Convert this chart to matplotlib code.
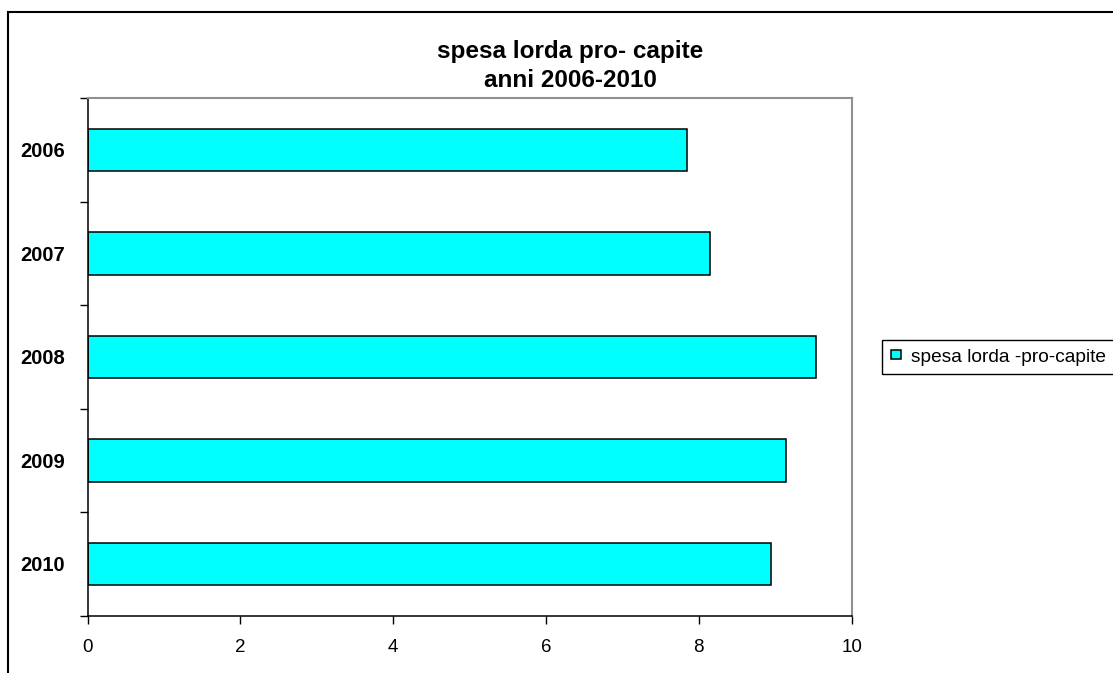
import matplotlib.pyplot as plt
from matplotlib.patches import Rectangle

# spesa lorda pro-capite per anno
anni = ['2006', '2007', '2008', '2009', '2010']
spesa = [7.85, 8.15, 9.53, 9.14, 8.95]
xticks = [0, 2, 4, 6, 8, 10]

plt.rcParams['font.family'] = ['Liberation Sans', 'DejaVu Sans']

W, H = 1113, 673
fig = plt.figure(figsize=(W / 100, H / 100), dpi=100)

# cornice del grafico (lati destro e inferiore fuori dall'immagine)
fig.patches.append(Rectangle((8 / W, -0.1), 1.2, 1 - 12 / H + 0.1, transform=fig.transFigure,
                             fill=False, edgecolor='black', linewidth=1.5))

left, right, top, bottom = 87.5, 851.7, 98, 615.7
ax = fig.add_axes([left / W, 1 - bottom / H, (right - left) / W, (bottom - top) / H])

pos = list(range(len(anni)))
ax.barh(pos, spesa, height=0.41, color='#00FFFF', edgecolor='black', linewidth=1.1,
        label='spesa lorda -pro-capite')

ax.set_xlim(0, 10)
ax.set_ylim(len(anni) - 0.5, -0.5)
ax.set_xticks(xticks)
ax.set_xticklabels([str(v) for v in xticks], fontsize=13.5)
ax.tick_params(axis='x', direction='out', length=6, width=1, pad=11)

# tacche sui confini delle categorie, etichette al centro
ax.set_yticks([i - 0.5 for i in range(len(anni) + 1)])
ax.set_yticklabels([])
ax.tick_params(axis='y', which='major', direction='out', length=6, width=1)
ax.set_yticks(pos, minor=True)
ax.set_yticklabels(anni, minor=True, fontsize=14.5, fontweight='bold')
ax.tick_params(axis='y', which='minor', length=0, pad=16)

for s in ('left', 'bottom'):
    ax.spines[s].set_color('black')
    ax.spines[s].set_linewidth(1.1)
for s in ('top', 'right'):
    ax.spines[s].set_color('#909090')
    ax.spines[s].set_linewidth(1.5)

fig.text(570 / W, 1 - 66 / H, 'spesa lorda pro- capite\nanni 2006-2010',
         ha='center', va='center', fontsize=17.5, fontweight='bold', linespacing=1.3)

fig.legend(loc='center left', bbox_to_anchor=(882 / W, 1 - 357 / H), fontsize=13.8,
           frameon=True, fancybox=False, edgecolor='black', framealpha=1,
           handlelength=0.55, handleheight=0.4, handletextpad=0.5, borderpad=0.45,
           borderaxespad=0)
leg = fig.legends[0]
leg.get_frame().set_linewidth(1.0)

fig.savefig('out.png', dpi=100)
